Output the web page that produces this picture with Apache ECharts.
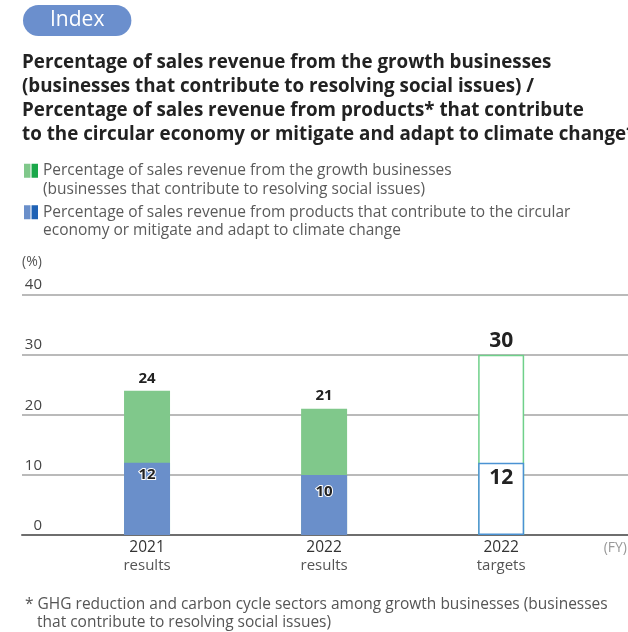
<!DOCTYPE html>
<html>
<head>
<meta charset="utf-8">
<script src="https://cdn.jsdelivr.net/npm/echarts@6/dist/echarts.min.js"></script>
<style>
  html, body { margin: 0; padding: 0; background: #fff; overflow: hidden; }
  #chart { width: 628px; height: 632px; }
</style>
</head>
<body>
<div id="chart"></div>
<script>
// Fiscal-year categories (year + kind of figure)
const fiscalYears = ['2021', '2022', '2022'];
const figureKinds = ['results', 'results', 'targets'];

// Share of sales revenue (%)
const growthShare = [24, 21, 30];      // growth businesses
const climateShare = [12, 10, 12];     // circular economy / climate products

// Value axis ticks
const yTicks = [0, 10, 20, 30, 40];

// Legend texts, one entry per wrapped line
const growthLegend = ['Percentage of sales revenue from the growth businesses', '(businesses that contribute to resolving social issues)'];
const climateLegend = ['Percentage of sales revenue from products that contribute to the circular', 'economy or mitigate and adapt to climate change'];

const FONT = '"Open Sans", Roboto, sans-serif';
const GREEN = '#80c88b', GREEN_DARK = '#1aa84a', GREEN_LINE = '#6fd08a';
const BLUE = '#6a8fca', BLUE_DARK = '#1f62b5', BLUE_LINE = '#4a92d3';

const categories = fiscalYears.map((y, i) => y + '\n' + figureKinds[i]);

function twoTone(light, dark) {
  return new echarts.graphic.LinearGradient(0, 0, 1, 0, [
    { offset: 0, color: light }, { offset: 0.46, color: light },
    { offset: 0.54, color: dark }, { offset: 1, color: dark }
  ]);
}

const targetIdx = figureKinds.indexOf('targets');

const growthData = growthShare.map((v, i) => {
  if (i === targetIdx) {
    return {
      value: v,
      itemStyle: { color: '#fff', borderColor: GREEN_LINE, borderWidth: 1.5 },
      label: { fontSize: 21, distance: 3 }
    };
  }
  return { value: v, label: { distance: i === 0 ? 4 : 6 } };
});

const climateData = climateShare.map((v, i) => {
  if (i === targetIdx) {
    return {
      value: v,
      itemStyle: { color: '#fff', borderColor: BLUE_LINE, borderWidth: 1.5 },
      label: { fontSize: 21, distance: 5, textBorderWidth: 0 }
    };
  }
  return { value: v, label: { distance: i === 0 ? 4 : 9 } };
});

const chart = echarts.init(document.getElementById('chart'), null, { renderer: 'canvas' });

chart.setOption({
  backgroundColor: '#fff',
  animation: false,
  textStyle: { fontFamily: FONT },
  title: [
    {
      text: 'Index',
      left: 23, top: 5,
      backgroundColor: '#6b8fcd',
      borderRadius: 16,
      padding: [4, 27, 4, 27],
      textStyle: { color: '#fff', fontSize: 21, fontWeight: 'normal', lineHeight: 23, fontFamily: FONT }
    },
    {
      text: 'Percentage of sales revenue from the growth businesses\n(businesses that contribute to resolving social issues) /\nPercentage of sales revenue from products* that contribute\nto the circular economy or mitigate and adapt to climate change*',
      left: 22, top: 51, padding: 0,
      textStyle: { color: '#222', fontSize: 18.8, fontWeight: 'bold', lineHeight: 24, fontFamily: FONT }
    },
    {
      text: '* GHG reduction and carbon cycle sectors among growth businesses (businesses',
      left: 25, top: 596, padding: 0,
      textStyle: { color: '#555', fontSize: 15.5, fontWeight: 'normal', lineHeight: 18, fontFamily: FONT }
    },
    {
      text: 'that contribute to resolving social issues)',
      left: 37, top: 614, padding: 0,
      textStyle: { color: '#555', fontSize: 15.5, fontWeight: 'normal', lineHeight: 18, fontFamily: FONT }
    }
  ],
  legend: {
    orient: 'vertical',
    left: 24, top: 143,
    padding: 0,
    itemGap: -14,
    itemWidth: 14, itemHeight: 14,
    icon: 'path://M0,0H6V13H0Z M7,0H13V13H7Z',
    selectedMode: false,
    textStyle: { color: '#5a5a5a', fontSize: 15.5, lineHeight: 18.5, fontFamily: FONT },
    data: [
      { name: 'growth', itemStyle: { color: twoTone(GREEN, GREEN_DARK) } },
      { name: 'climate', itemStyle: { color: twoTone(BLUE, BLUE_DARK) } }
    ],
    // a blank first line keeps the icon level with the first line of text
    formatter: name => ' \n' + (name === 'growth' ? growthLegend : climateLegend).join('\n')
  },
  grid: [
    // full-width grid carrying the horizontal rules and tick labels
    { left: 22, right: 0, top: 294.5, bottom: 97, containLabel: false },
    // grid for the bars
    { left: 58.5, right: 32, top: 294.5, bottom: 97, containLabel: false }
  ],
  xAxis: [
    {
      gridIndex: 0, type: 'category', data: categories,
      axisLine: { show: true, lineStyle: { color: '#6e6e6e', width: 2 } },
      axisTick: { show: false }, axisLabel: { show: false }, splitLine: { show: false }
    },
    {
      gridIndex: 1, type: 'category', data: categories,
      axisLine: { show: false }, axisTick: { show: false },
      name: '(FY)', nameLocation: 'end', nameGap: 14,
      nameTextStyle: { color: '#999', fontSize: 14, align: 'left', verticalAlign: 'top', padding: [6, 0, 0, 0] },
      axisLabel: {
        margin: 4,
        formatter: (val, i) => '{y|' + fiscalYears[i] + '}\n{k|' + figureKinds[i] + '}',
        rich: {
          y: { fontSize: 15.5, color: '#333', lineHeight: 18, fontFamily: FONT },
          k: { fontSize: 15, color: '#555', lineHeight: 18, fontFamily: FONT }
        }
      }
    }
  ],
  yAxis: [
    {
      gridIndex: 0, type: 'value',
      min: yTicks[0], max: yTicks[yTicks.length - 1], interval: yTicks[1] - yTicks[0],
      name: '(%)', nameLocation: 'end', nameGap: 32,
      nameTextStyle: { color: '#555', fontSize: 14, align: 'left', verticalAlign: 'middle' },
      axisLine: { show: false }, axisTick: { show: false },
      splitLine: { show: true, lineStyle: { color: '#a3a3a3', width: 1.5 } },
      axisLabel: {
        align: 'right', margin: -20, verticalAlign: 'bottom', padding: [0, 0, 2, 0],
        color: '#444', fontSize: 15
      }
    },
    {
      gridIndex: 1, type: 'value',
      min: yTicks[0], max: yTicks[yTicks.length - 1], interval: yTicks[1] - yTicks[0],
      show: false, splitLine: { show: false }
    }
  ],
  series: [
    {
      name: 'growth', type: 'bar', xAxisIndex: 1, yAxisIndex: 1,
      barWidth: 46, barGap: '-100%',
      itemStyle: { color: GREEN },
      label: { show: true, position: 'top', color: '#222', fontSize: 15, fontWeight: 'bold', fontFamily: FONT },
      data: growthData
    },
    {
      name: 'climate', type: 'bar', xAxisIndex: 1, yAxisIndex: 1,
      barWidth: 46, barGap: '-100%',
      itemStyle: { color: BLUE },
      label: {
        show: true, position: 'insideTop', color: '#222', fontSize: 15, fontWeight: 'bold',
        textBorderColor: '#fff', textBorderWidth: 2, fontFamily: FONT
      },
      data: climateData
    }
  ]
});
</script>
</body>
</html>
